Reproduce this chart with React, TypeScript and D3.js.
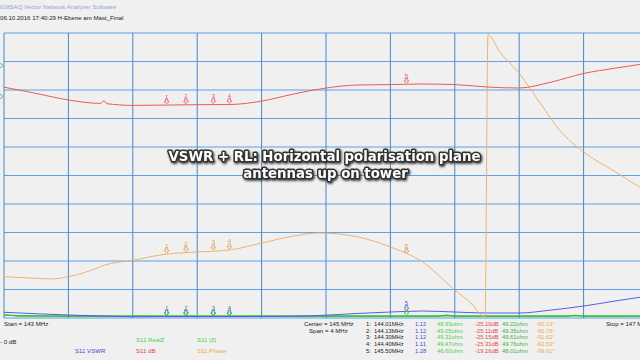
import React from "react";
import * as d3 from "d3";

// ---- data ----
const rlFreq = [143.0, 143.2, 143.4, 143.6, 143.62, 143.64, 143.8, 144.0, 144.2, 144.4, 144.6, 144.8, 145.0, 145.2, 145.4, 145.6, 145.8, 146.0, 146.2, 146.4, 146.6, 146.8, 146.95, 147.0];
const rlDb = [-19.0, -21.2, -23.5, -24.7, -23.8, -24.8, -25.4, -25.3, -25.15, -25.1, -23.9, -21.4, -19.3, -18.25, -18.1, -17.9, -18.1, -18.95, -19.3, -17.2, -14.2, -12.3, -11.0, -10.5];

const swrFreq = [143.0, 143.2, 143.4, 143.6, 143.8, 144.0, 144.4, 144.8, 145.0, 145.2, 145.4, 145.6, 145.8, 146.0, 146.2, 146.4, 146.6, 146.8, 147.0];
const swrVals = [1.2, 1.15, 1.105, 1.07, 1.045, 1.05, 1.05, 1.06, 1.1, 1.16, 1.21, 1.245, 1.21, 1.175, 1.175, 1.28, 1.42, 1.6, 1.77];

const phFreq = [143.0, 143.2, 143.3, 143.4, 143.6, 143.62, 143.8, 144.0, 144.2, 144.4, 144.6, 144.8, 144.95, 145.0, 145.2, 145.4, 145.6, 145.8, 145.9, 145.988, 146.006, 146.08, 146.2, 146.33, 146.45, 146.6, 146.8, 146.95, 147.0];
const phDeg = [-127.8, -129.9, -130.7, -127.8, -115.2, -113.5, -107.1, -99.5, -96.6, -94.1, -85.3, -76.4, -72.6, -72.8, -77.7, -90.3, -109.3, -144.6, -161, -179, 177.5, 156, 129, 91.6, 57.5, 29.7, 4.4, -14.5, -19.6];

const zFreq = [143.0, 143.05, 143.1, 143.5, 144.0, 144.5, 145.0, 145.5, 145.7, 145.75, 145.8, 146.0, 146.5, 146.55, 146.6, 147.0];
const reZ = [80, 70, 55, 50, 49, 49, 48, 46.6, 47, 80, 47, 48, 49, 75, 50, 52];
const absZ = [85, 72, 56, 51, 49.5, 49.6, 49, 48, 48.5, 60, 48.5, 49, 50, 60, 51, 53];

const markerFreq = [144.01, 144.13, 144.3, 144.4, 145.5];
const markerLabels = ["1", "2", "3", "4", "5"];
const tblFreq = ["144.01MHz", "144.13MHz", "144.30MHz", "144.40MHz", "145.50MHz"];
const tblSwr = ["1.12", "1.12", "1.12", "1.11", "1.28"];
const tblReZ = ["48.93ohm", "49.05ohm", "49.31ohm", "49.47ohm", "46.60ohm"];
const tblDb = ["-25.10dB", "-25.11dB", "-25.15dB", "-25.31dB", "-19.16dB"];
const tblAbsZ = ["49.22ohm", "49.35ohm", "49.61ohm", "49.76ohm", "48.01ohm"];
const tblPh = ["-90.13°", "-90.76°", "-91.62°", "-92.53°", "-99.61°"];

const C_BLUE = "#5a5ae8";
const C_RED = "#ec5a5a";
const C_ORANGE = "#f2b26a";
const C_GREEN = "#3cc83c";

const X0 = 4, X1 = 648, Y0 = 33, Y1 = 318;

function interp(fs: number[], vs: number[], f: number) {
  for (let i = 0; i < fs.length - 1; i++) {
    if (f >= fs[i] && f <= fs[i + 1]) {
      const t = (f - fs[i]) / (fs[i + 1] - fs[i]);
      return vs[i] + t * (vs[i + 1] - vs[i]);
    }
  }
  return vs[vs.length - 1];
}

function Arrow({ x, y, color }: { x: number; y: number; color: string }) {
  const d = `M${x - 1.2},${y - 6} L${x + 1.2},${y - 6} L${x + 1.2},${y - 3.5} L${x + 2.4},${y - 3.5} L${x},${y - 1} L${x - 2.4},${y - 3.5} L${x - 1.2},${y - 3.5} Z`;
  return <path d={d} fill="none" stroke={color} strokeWidth={0.8} />;
}

export default function App() {
  const x = d3.scaleLinear().domain([143, 147]).range([X0, X1]);
  const yDb = d3.scaleLinear().domain([-100, 0]).range([Y1, Y0]);
  const ySwr = d3.scaleLinear().domain([1, 11]).range([Y1, Y0]);
  const yPh = d3.scaleLinear().domain([-180, 180]).range([Y1, Y0]);
  const yOhm = d3.scaleLinear().domain([0, 10000]).range([Y1 - 0.5, Y0]);

  const mk = (fs: number[], vs: number[], ys: d3.ScaleLinear<number, number>) =>
    d3.line<number>().x((_, i) => x(fs[i])).y((v) => ys(v)).curve(d3.curveMonotoneX)(vs) || "";

  const vTicks = d3.range(0, 11).map((i) => X0 + (i * (X1 - X0)) / 10);
  const hTicks = d3.range(0, 11).map((i) => Y0 + (i * (Y1 - Y0)) / 10);

  const small = { fontFamily: "Liberation Sans, Arial, sans-serif", fontSize: 6.1 } as const;
  const tbl = { fontFamily: "Liberation Sans, Arial, sans-serif", fontSize: 5.8 } as const;
  const rowY = [326, 332.7, 339.4, 346.1, 352.8];

  return (
    <svg width={640} height={360} style={{ position: "absolute", left: 0, top: 0, background: "#f0f0f0" }}>
      <defs>
        <filter id="sh" x="-10%" y="-50%" width="120%" height="200%">
          <feDropShadow dx="1" dy="1.3" stdDeviation="1.2" floodColor="#000" floodOpacity="0.8" />
        </filter>
        <clipPath id="plot">
          <rect x={X0} y={Y0 - 1} width={X1 - X0} height={Y1 - Y0 + 2} />
        </clipPath>
      </defs>
      <rect x={0} y={0} width={640} height={360} fill="#f0f0f0" />

      {/* header */}
      <text x={-3} y={9} {...small} fill="#8fa6c8">DG8SAQ Vector Network Analyzer Software</text>
      <text x={0} y={20} {...small} fill="#222">06.10.2016  17:40:29   H-Ebene am Mast_Final</text>

      {/* grid */}
      {hTicks.map((y, i) => (
        <line key={"h" + i} x1={X0} x2={640} y1={y} y2={y} stroke="#5aa2ea" strokeWidth={1.2} />
      ))}
      {vTicks.map((vx, i) => (
        <line key={"v" + i} x1={vx} x2={vx} y1={Y0} y2={Y1} stroke="#4a86c4" strokeWidth={1} />
      ))}

      {/* left ref markers */}
      <path d="M0,63 L3,65.5 L0,68" fill="none" stroke={C_GREEN} strokeWidth={0.9} />
      <path d="M0,94 L3,96.5 L0,99" fill="none" stroke={C_GREEN} strokeWidth={0.9} />

      <g clipPath="url(#plot)">
        <path d={mk(zFreq, absZ, yOhm)} fill="none" stroke={C_GREEN} strokeWidth={1.2} />
        <path d={mk(zFreq, reZ, yOhm)} fill="none" stroke="#2fbf2f" strokeWidth={1.2} />
        <path d={mk(swrFreq, swrVals, ySwr)} fill="none" stroke={C_BLUE} strokeWidth={1} />
        <path d={mk(phFreq, phDeg, yPh)} fill="none" stroke={C_ORANGE} strokeWidth={1} />
        <path d={mk(rlFreq, rlDb, yDb)} fill="none" stroke={C_RED} strokeWidth={1} />
      </g>

      {/* markers */}
      {markerFreq.map((f, i) => {
        const mx = x(f);
        const ry = yDb(interp(rlFreq, rlDb, f));
        const py = yPh(interp(phFreq, phDeg, f));
        const sy = ySwr(interp(swrFreq, swrVals, f));
        const gy = yOhm(interp(zFreq, reZ, f));
        return (
          <g key={"m" + i}>
            <text x={mx} y={ry - 6.5} textAnchor="middle" {...small} fontSize={6} fill={C_RED}>{markerLabels[i]}</text>
            <Arrow x={mx} y={ry} color={C_RED} />
            <text x={mx} y={py - 6.5} textAnchor="middle" {...small} fontSize={6} fill="#e09a4a">{markerLabels[i]}</text>
            <Arrow x={mx} y={py} color="#e09a4a" />
            <text x={mx} y={sy - 6.5} textAnchor="middle" {...small} fontSize={6} fill={C_BLUE}>{markerLabels[i]}</text>
            <Arrow x={mx} y={sy} color={C_BLUE} />
            <Arrow x={mx} y={gy} color={C_GREEN} />
          </g>
        );
      })}

      {/* title */}
      <g filter="url(#sh)" fontFamily="DejaVu Sans, Verdana, sans-serif" fontWeight="bold" fontSize={13.3} textAnchor="middle">
        <text x={324.5} y={161} fill="#fff" stroke="#333" strokeWidth={3} paintOrder="stroke" strokeLinejoin="round">VSWR + RL: Horizontal polarisation plane</text>
        <text x={325.5} y={177.5} fill="#fff" stroke="#333" strokeWidth={3} paintOrder="stroke" strokeLinejoin="round">antennas up on tower</text>
      </g>

      {/* bottom info */}
      <text x={4} y={326} {...small} fill="#222">Start = 143 MHz</text>
      <text x={304} y={326} {...small} fill="#222">Center = 145 MHz</text>
      <text x={309} y={333} {...small} fill="#222">Span = 4 MHz</text>
      <text x={606} y={326} {...small} fill="#222">Stop = 147 MHz</text>
      <text x={0} y={344} {...small} fill="#222">- 0 dB</text>

      <text x={136} y={342} {...small} fill="#4ad04a">S11 RealZ</text>
      <text x={197} y={342} {...small} fill="#4ad04a">S11 |Z|</text>
      <text x={75} y={352.5} {...small} fill="#4a4ad0">S11 VSWR</text>
      <text x={136} y={352.5} {...small} fill="#e04848">S11 dB</text>
      <text x={197} y={352.5} {...small} fill="#f0a848">S11 Phase</text>

      {rowY.map((ry, i) => (
        <g key={"r" + i} {...tbl}>
          <text x={366} y={ry} fill="#222">{markerLabels[i] + ":"}</text>
          <text x={374} y={ry} fill="#222">{tblFreq[i]}</text>
          <text x={415} y={ry} fill="#4a4ad0">{tblSwr[i]}</text>
          <text x={437} y={ry} fill="#4ad04a">{tblReZ[i]}</text>
          <text x={475} y={ry} fill="#e04848">{tblDb[i]}</text>
          <text x={502} y={ry} fill="#3cb43c">{tblAbsZ[i]}</text>
          <text x={536} y={ry} fill="#f0a848">{tblPh[i]}</text>
        </g>
      ))}
    </svg>
  );
}
